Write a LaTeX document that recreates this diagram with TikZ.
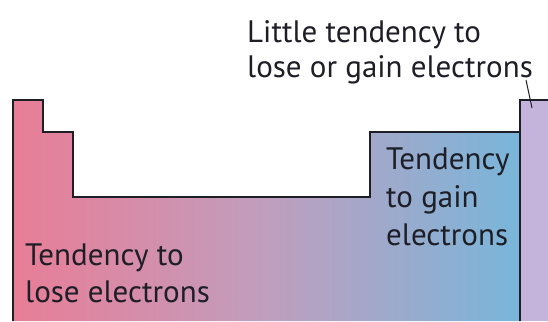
\documentclass[tikz,border=0pt]{standalone}
\usepackage{fontspec}
\setmainfont{PT Sans}
\definecolor{pinkL}{RGB}{233,125,150}
\definecolor{midC}{RGB}{192,158,190}
\definecolor{blueR}{RGB}{120,182,218}
\definecolor{nobleC}{RGB}{196,180,220}
\definecolor{inkC}{RGB}{30,30,38}
\tikzset{outline/.style={draw=inkC,line width=1.4pt,line join=miter},
  lbl/.style={inner sep=0pt,anchor=base west,align=left,text=inkC}}
\begin{document}
\begin{tikzpicture}[x=1pt,y=-1pt]
\useasboundingbox (0,0) rectangle (548,321);
\fill[white] (0,0) rectangle (548,321);
\shade[left color=pinkL,right color=blueR,middle color=midC]
  (13,321) -- (13,100) -- (43,100) -- (43,132) -- (73,132) -- (73,197) -- (370,197) -- (370,132) -- (520,132) -- (520,321) -- cycle;
\fill[nobleC] (520,100) rectangle (548,321);
\draw[outline] (13,321) -- (13,100) -- (43,100) -- (43,132) -- (73,132) -- (73,197) -- (370,197) -- (370,132) -- (520,132);
\draw[outline] (520,321) -- (520,100) -- (548,100);
\node[lbl,font=\fontsize{31}{35}\selectfont] (top) at (247,77) {Little tendency to\\lose or gain electrons};
\node[lbl,font=\fontsize{31}{38}\selectfont] (gain) at (386,245) {Tendency\\to gain\\electrons};
\node[lbl,font=\fontsize{31}{37}\selectfont] (lose) at (25,302) {Tendency to\\lose electrons};
\coordinate (lt) at (526,80);
\coordinate (lb) at (532,108);
\draw[inkC,line width=1pt] (lt) -- (lb);
\end{tikzpicture}
\end{document}
